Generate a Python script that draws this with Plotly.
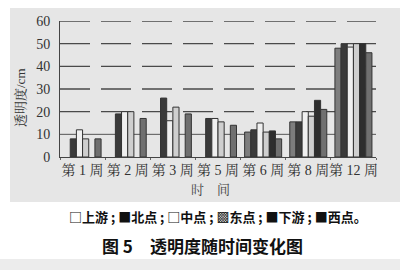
import plotly.graph_objects as go

weeks = ["第 1 周", "第 2 周", "第 3 周", "第 5 周", "第 6 周", "第 8 周", "第 12 周"]
series_names = ["上游", "北点", "中点", "东点", "下游", "西点"]
shangyou = [None, None, None, None, 11, 15.5, 48]
beidian = [8, 19, 26, 17, 12, 15.5, 50]
zhongdian = [12, 20, 16, 17, 15, 20, 48.5]
dongdian = [8, 20, 22, 15.5, 11, 18, 50]
xiayou = [None, None, None, None, 11.5, 25, 50]
xidian = [8, 17, 19, 14, 8, 21, 46]
y_ticks = [0, 10, 20, 30, 40, 50, 60]

series_values = [shangyou, beidian, zhongdian, dongdian, xiayou, xidian]
colors = ["#7d7d7d", "#3a3a3a", "#f0f0f0", "#cfcfcf", "#2e2e2e", "#707070"]

W, H = 400, 270
L, R, T, B = 60, 24, 21, 113
pw, ph = W - L - R, H - T - B


def px(x):
    return (x - L) / pw


def py(y):
    return (H - B - y) / ph


fig = go.Figure()
for name, vals, c in zip(series_names, series_values, colors):
    fig.add_trace(go.Bar(x=weeks, y=vals, name=name, marker=dict(color=c, line=dict(color="#333333", width=1))))

serif = "Liberation Serif, Noto Serif CJK SC, Noto Sans CJK SC, serif"
sans = "Noto Sans CJK SC, sans-serif"


def note(text, x, y, font, angle=0):
    return dict(text=text, xref="paper", yref="paper", x=px(x), y=py(y), textangle=angle,
                xanchor="center", yanchor="middle", showarrow=False, font=font)


shapes = [
    dict(type="rect", xref="paper", yref="paper", x0=px(10), x1=px(400), y0=py(202), y1=py(8),
         fillcolor="#e6e6e6", line=dict(width=0), layer="below"),
    dict(type="rect", xref="paper", yref="paper", x0=px(0), x1=px(400), y0=py(270), y1=py(259),
         fillcolor="#ececec", line=dict(width=0), layer="below"),
]
for v in y_ticks[1:]:
    shapes.append(dict(type="line", xref="paper", yref="y", x0=0, x1=1, y0=v, y1=v, layer="below",
                       line=dict(color="#555555" if v == 10 else "#4a4a4a", width=1 if v == 10 else 1.3,
                                 dash="solid" if v == 10 else "30px,11px")))

fig.update_layout(
    width=W, height=H, autosize=False,
    margin=dict(l=L, r=R, t=T, b=B, pad=0),
    paper_bgcolor="white", plot_bgcolor="rgba(0,0,0,0)",
    barmode="group", bargap=0.18, bargroupgap=0,
    showlegend=False,
    xaxis=dict(showline=True, linecolor="#444444", linewidth=1, ticks="outside", ticklen=2,
               tickcolor="#666666", tickson="boundaries", showgrid=False, tickangle=0,
               tickfont=dict(family=serif, size=14, color="#333333")),
    yaxis=dict(range=[0, 60], tickvals=y_ticks, showline=True, linecolor="#444444", linewidth=1,
               showgrid=False, zeroline=False, ticks="", ticklabelstandoff=6,
               tickfont=dict(family=serif, size=14, color="#333333")),
    shapes=shapes,
    annotations=[
        note("透明度/cm", 20, 98, dict(family=serif, size=13, color="#333333"), -90),
        note("时　间", 210, 189, dict(family=serif, size=13, color="#444444")),
        note("<b>□上游 ; ■北点 ; □中点 ; ▩东点 ; ■下游 ; ■西点。</b>", 218, 216,
             dict(family=sans, size=13, color="#111111")),
        note("<b>图 5　透明度随时间变化图</b>", 202, 245, dict(family=sans, size=17, color="#111111")),
    ],
)

fig.write_html("out.html")
